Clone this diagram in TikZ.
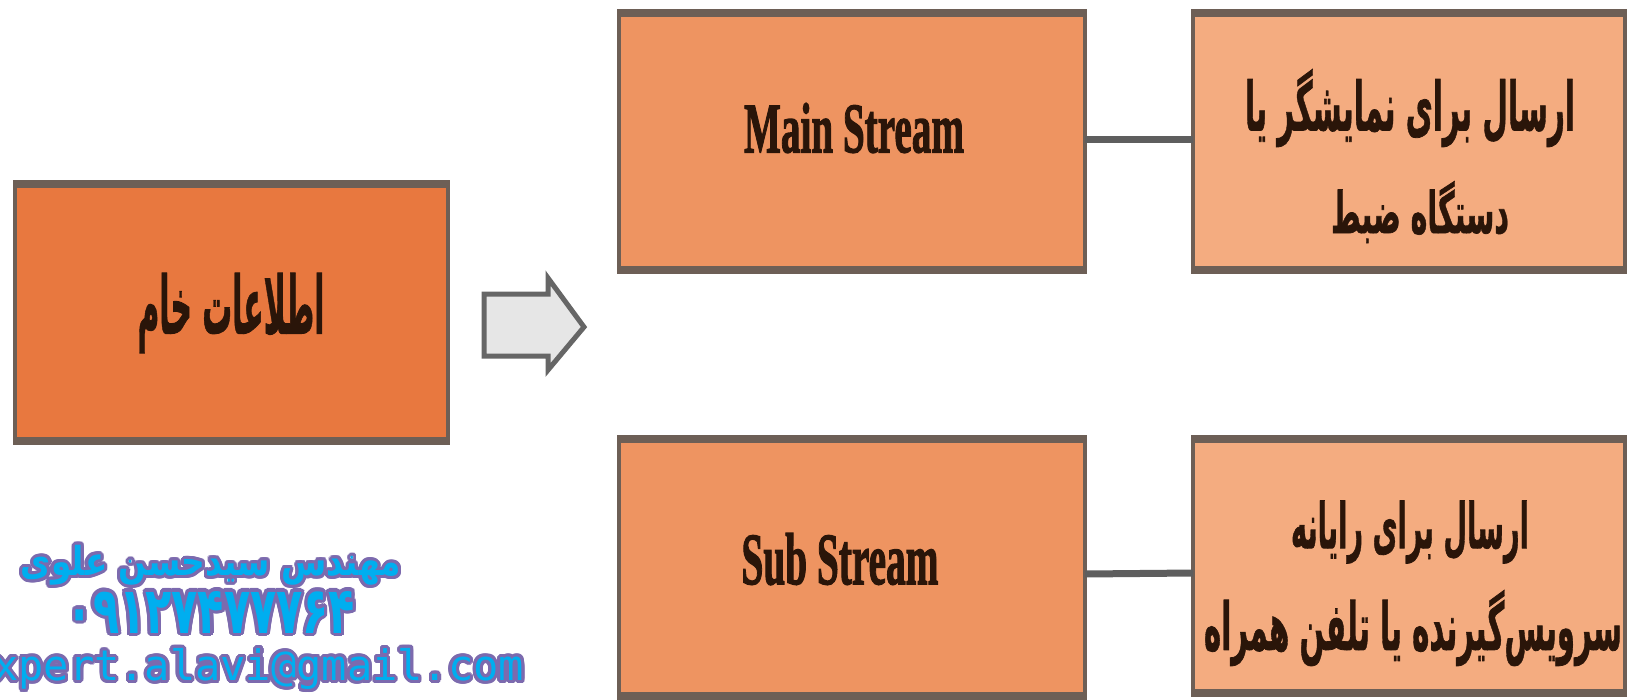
\documentclass[tikz,border=0pt]{standalone}
\usepackage{fontspec}
\usepackage{graphicx}
\setmainfont{Liberation Serif}
\newfontfamily\headfont{Liberation Serif}[BoldFeatures={FakeBold=2}]
\newfontfamily\fa[Script=Arabic, BoldFeatures={FakeBold=1.2}]{DejaVu Sans}
\newfontfamily\wmfa[Script=Arabic]{DejaVu Sans}
\newfontfamily\mailfont{DejaVu Sans Mono}
\TeXXeTstate=1
\usetikzlibrary{calc}

\definecolor{rawfill}{HTML}{E8783F}
\definecolor{streamfill}{HTML}{EE9461}
\definecolor{targetfill}{HTML}{F4AC80}
\definecolor{edge}{HTML}{6D5F56}
\definecolor{linkgray}{HTML}{5E5E5E}
\definecolor{ink}{HTML}{2A1509}
\definecolor{arrowfill}{HTML}{E6E6E6}
\definecolor{arrowedge}{HTML}{666666}
\definecolor{wmcyan}{HTML}{00AEEF}
\definecolor{wmpurple}{HTML}{7C6AAE}

% Persian label squeezed to a given width and total height
\newcommand\fitfa[3]{\resizebox*{#1pt}{#2pt}{\fa\bfseries\beginR #3\endR}}
% Latin label squeezed to a given width and total height
\newcommand\fitlat[3]{\resizebox*{#1pt}{#2pt}{\headfont\bfseries #3}}

\tikzset{
  block/.style={rectangle, draw=edge, line width=4pt, inner sep=0pt, outer sep=0pt},
  band/.style={edge, line width=8pt},
  link/.style={linkgray, line width=7pt},
  lbl/.style={inner sep=0pt, text=ink},
  wmout/.style={inner sep=0pt, text=wmpurple},
  wmin/.style={inner sep=0pt, text=wmcyan},
}

% text in cyan with a purple rim: a ring of purple copies under a cyan one
\newcommand\rimtext[3]{%
  \foreach \a in {0,20,...,340}
    \node[wmout] (#1-\a) at ($(#2)+(\a:3.2)$) {#3};
  \node[wmin] (#1) at (#2) {#3};
}

\begin{document}
\begin{tikzpicture}[x=1pt, y=-1pt]
\useasboundingbox (0,0) rectangle (1630,699);
\fill[white] (0,0) rectangle (1630,699);
\clip (0,0) rectangle (1630,699);

% boxes
\node[block, fill=rawfill, minimum width=433pt, minimum height=261pt] (raw) at (231.5,312.5) {};
\node[block, fill=streamfill, minimum width=466pt, minimum height=261pt] (main) at (852,141.5) {};
\node[block, fill=targetfill, minimum width=432pt, minimum height=261pt] (disp) at (1409,141.5) {};
\node[block, fill=streamfill, minimum width=466pt, minimum height=261pt] (sub) at (852,567) {};
\node[block, fill=targetfill, minimum width=432pt, minimum height=258pt] (mob) at (1409,566) {};

% heavier top and bottom edges
\foreach \b in {raw,main,disp,sub,mob}{
  \draw[band] ([yshift=-2pt]\b.north west) -- ([yshift=-2pt]\b.north east);
  \draw[band] ([yshift=2pt]\b.south west) -- ([yshift=2pt]\b.south east);
}

% connectors
\draw[link] ([yshift=2pt]main.east) -- ([yshift=2pt]disp.west);
\draw[link] ([yshift=-7pt]sub.east) -- ([yshift=-7pt]mob.west);

% block arrow
\draw[arrowedge, fill=arrowfill, line width=5pt, line join=miter]
  (484,294) -- (548,294) -- (548,278) -- (584,327) -- (548,370) -- (548,356) -- (484,356) -- cycle;

% labels
\node[lbl] (rawtxt) at (231,313) {\fitfa{187}{80}{اطلاعات خام}};
\node[lbl] (maintxt) at (854,128) {\fitlat{220}{50}{Main Stream}};
\node[lbl] (subtxt) at (840,559) {\fitlat{197}{52}{Sub Stream}};
\node[lbl] (disp1) at (1410,108) {\fitfa{330}{78}{ارسال برای نمایشگر یا}};
\node[lbl] (disp2) at (1420,212) {\fitfa{178}{62}{دستگاه ضبط}};
\node[lbl] (mob1) at (1410,532) {\fitfa{238}{63}{ارسال برای رایانه}};
\node[lbl] (mob2) at (1413,628) {\fitfa{418}{76}{سرویس‌گیرنده یا تلفن همراه}};

% author credit
\coordinate (namepos) at (211,565);
\coordinate (telpos) at (211,612);
\coordinate (mailpos) at (246,669);
\rimtext{name}{namepos}{\resizebox*{380pt}{40pt}{\wmfa\bfseries\beginR مهندس سیدحسن علوی\endR}}
\rimtext{tel}{telpos}{\resizebox*{288pt}{42pt}{\wmfa\bfseries ۰۹۱۲۷۴۷۷۷۶۴}}
\rimtext{mail}{mailpos}{\resizebox{556pt}{!}{\mailfont expert.alavi@gmail.com}}
\end{tikzpicture}
\end{document}
